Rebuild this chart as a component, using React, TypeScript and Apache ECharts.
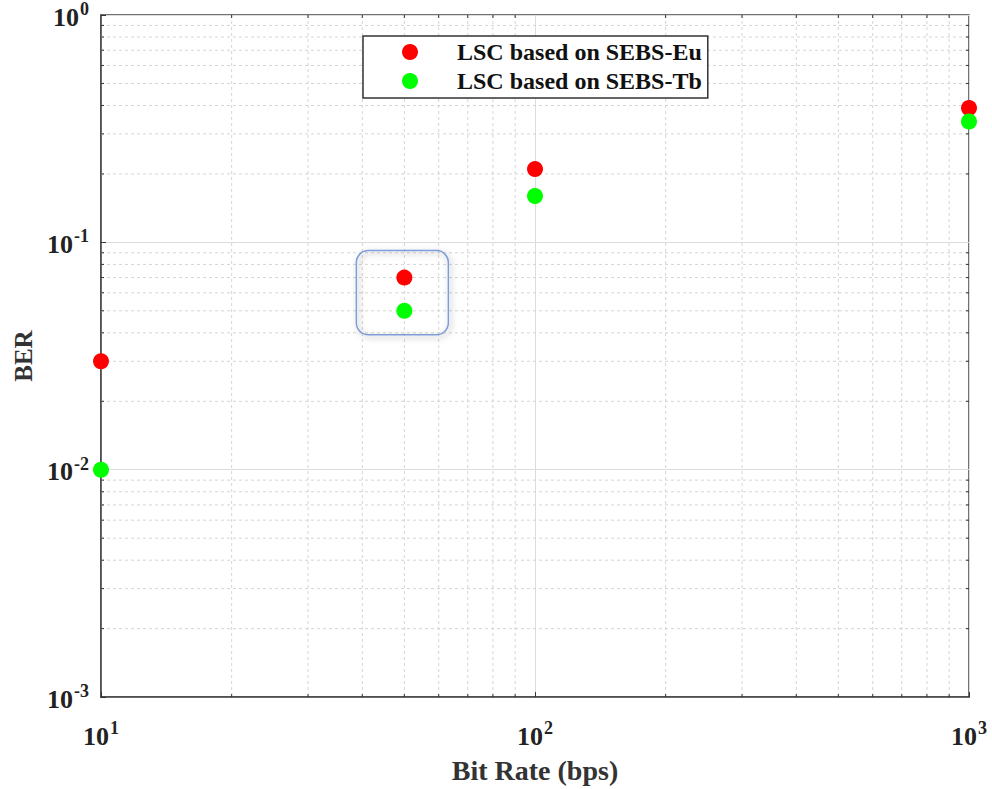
import React, { useEffect, useRef } from "react";
import * as echarts from "echarts";

const bitRates = [10, 50, 100, 1000];
const berEu = [0.03, 0.07, 0.21, 0.39];
const berTb = [0.01, 0.05, 0.16, 0.34];
const seriesNames = ["LSC based on SEBS-Eu", "LSC based on SEBS-Tb"];
const xMinor = [20, 30, 40, 50, 60, 70, 80, 90, 200, 300, 400, 500, 600, 700, 800, 900];
const yMinor = [
  0.002, 0.003, 0.004, 0.005, 0.006, 0.007, 0.008, 0.009,
  0.02, 0.03, 0.04, 0.05, 0.06, 0.07, 0.08, 0.09,
  0.2, 0.3, 0.4, 0.5, 0.6, 0.7, 0.8, 0.9,
];
const highlightX = 50;
const highlightY = [0.07, 0.05];

const FONT = '"Liberation Serif", "Times New Roman", serif';

const powLabel = (v: number) => {
  const e = Math.round(Math.log10(v));
  return "{b|10}{s|" + e + "}";
};
const richLabel = {
  b: { fontFamily: FONT, fontSize: 26, fontWeight: "bold", color: "#222", verticalAlign: "bottom", lineHeight: 30 },
  s: { fontFamily: FONT, fontSize: 18, fontWeight: "bold", color: "#222", verticalAlign: "top", lineHeight: 30, padding: [0, 0, 14, 1] },
};

export default function App() {
  const ref = useRef<HTMLDivElement>(null);
  useEffect(() => {
    if (!ref.current) return;
    const chart = echarts.init(ref.current, null, { renderer: "svg" });
    const dash = "#d4d4d4";
    const tickColor = "#333";
    const option: any = {
      animation: false,
      backgroundColor: "#fff",
      grid: {
        left: 101,
        right: 23,
        top: 14,
        bottom: 91,
        show: true,
        borderColor: "#444",
        borderWidth: 1.5,
        backgroundColor: "transparent",
      },
      xAxis: {
        type: "log",
        logBase: 10,
        min: 10,
        max: 1000,
        name: "Bit Rate (bps)",
        nameLocation: "middle",
        nameGap: 58,
        nameTextStyle: { fontFamily: FONT, fontSize: 28, fontWeight: "bold", color: "#333" },
        axisLine: { show: true, lineStyle: { color: "#444", width: 1.5 } },
        axisTick: { show: true, inside: true, length: 5, lineStyle: { color: tickColor } },
        axisLabel: { formatter: powLabel, rich: richLabel, margin: 22 },
        splitLine: { show: true, lineStyle: { color: "#dcdcdc", width: 1 } },
      },
      yAxis: {
        type: "log",
        logBase: 10,
        min: 0.001,
        max: 1,
        name: "BER",
        nameLocation: "middle",
        nameGap: 62,
        nameTextStyle: { fontFamily: FONT, fontSize: 25, fontWeight: "bold", color: "#333" },
        axisLine: { show: true, lineStyle: { color: "#444", width: 1.5 } },
        axisTick: { show: true, inside: true, length: 5, lineStyle: { color: tickColor } },
        axisLabel: { formatter: powLabel, rich: richLabel, margin: 12 },
        splitLine: { show: true, lineStyle: { color: "#dcdcdc", width: 1 } },
      },
      legend: {
        data: seriesNames,
        orient: "vertical",
        left: 363,
        top: 36,
        padding: [4, 6, 5, 39],
        itemGap: 5,
        itemWidth: 16,
        itemHeight: 16,
        icon: "circle",
        backgroundColor: "#fff",
        borderColor: "#333",
        borderWidth: 1.5,
        textStyle: {
          fontFamily: FONT,
          fontSize: 24,
          fontWeight: "bold",
          color: "#111",
          lineHeight: 24,
          padding: [0, 0, 0, 34],
        },
      },
      series: [
        {
          type: "custom",
          name: "xminor",
          silent: true,
          z: 1,
          clip: false,
          data: xMinor.map((v) => [v, 0.01]),
          renderItem: (params: any, api: any) => {
            const cs = params.coordSys;
            const x = api.coord([api.value(0), 0.01])[0];
            return {
              type: "group",
              children: [
                { type: "line", shape: { x1: x, y1: cs.y, x2: x, y2: cs.y + cs.height }, style: { stroke: dash, lineWidth: 1, lineDash: [3, 3] } },
                { type: "line", shape: { x1: x, y1: cs.y + cs.height, x2: x, y2: cs.y + cs.height - 3 }, style: { stroke: tickColor, lineWidth: 1 } },
                { type: "line", shape: { x1: x, y1: cs.y, x2: x, y2: cs.y + 3 }, style: { stroke: tickColor, lineWidth: 1 } },
              ],
            };
          },
        },
        {
          type: "custom",
          name: "yminor",
          silent: true,
          z: 1,
          clip: false,
          data: yMinor.map((v) => [100, v]),
          renderItem: (params: any, api: any) => {
            const cs = params.coordSys;
            const y = api.coord([100, api.value(1)])[1];
            return {
              type: "group",
              children: [
                { type: "line", shape: { x1: cs.x, y1: y, x2: cs.x + cs.width, y2: y }, style: { stroke: dash, lineWidth: 1, lineDash: [3, 3] } },
                { type: "line", shape: { x1: cs.x, y1: y, x2: cs.x + 3, y2: y }, style: { stroke: tickColor, lineWidth: 1 } },
                { type: "line", shape: { x1: cs.x + cs.width, y1: y, x2: cs.x + cs.width - 3, y2: y }, style: { stroke: tickColor, lineWidth: 1 } },
              ],
            };
          },
        },
        {
          type: "scatter",
          name: seriesNames[0],
          z: 5,
          symbol: "circle",
          symbolSize: 16,
          itemStyle: { color: "#ff0000", opacity: 1 },
          data: bitRates.map((x, i) => [x, berEu[i]]),
        },
        {
          type: "scatter",
          name: seriesNames[1],
          z: 5,
          symbol: "circle",
          symbolSize: 16,
          itemStyle: { color: "#00ff00", opacity: 1 },
          data: bitRates.map((x, i) => [x, berTb[i]]),
        },
      ],
    };
    chart.setOption(option);
    const pTop = chart.convertToPixel({ gridIndex: 0 }, [highlightX, highlightY[0]]) as number[];
    const pBot = chart.convertToPixel({ gridIndex: 0 }, [highlightX, highlightY[1]]) as number[];
    chart.setOption({
      graphic: [
        {
          type: "rect",
          z: 10,
          silent: true,
          shape: { x: pTop[0] - 48, y: pTop[1] - 27, width: 92, height: pBot[1] - pTop[1] + 51, r: 12 },
          style: {
            fill: "transparent",
            stroke: "#7d9dd9",
            lineWidth: 1.5,
            shadowBlur: 6,
            shadowColor: "rgba(0,0,0,0.35)",
            shadowOffsetX: 2,
            shadowOffsetY: 2,
          },
        },
      ],
    });
    return () => chart.dispose();
  }, []);
  return <div ref={ref} style={{ width: 992, height: 789, position: "absolute", left: 0, top: 0 }} />;
}
